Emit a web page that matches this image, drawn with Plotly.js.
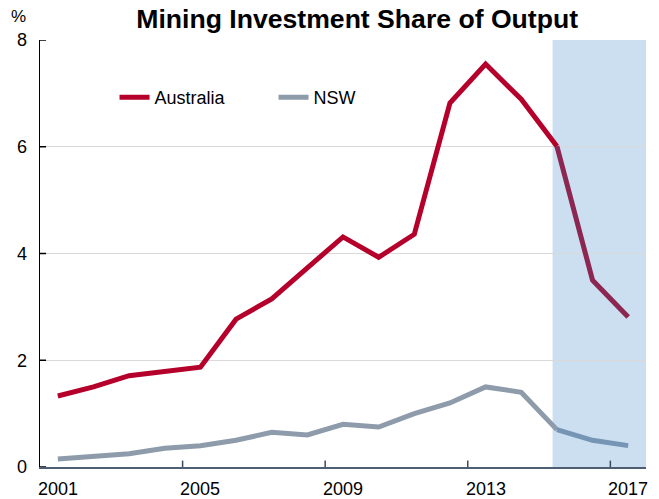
<!DOCTYPE html>
<html lang="en">
<head>
    <meta charset="UTF-8">
    <title>Mining Investment Share of Output</title>
    <script src="https://cdn.plot.ly/plotly-3.0.1.min.js"></script>
    <style>
        body { margin: 0; background: white; }
        #plot { width: 659px; height: 499px; }
    </style>
</head>
<body>
    <div id="plot"></div>
    <script>
        const years = [2001, 2002, 2003, 2004, 2005, 2006, 2007, 2008, 2009,
                       2010, 2011, 2012, 2013, 2014, 2015, 2016, 2017];
        const australia = [1.33, 1.50, 1.71, 1.78, 1.87, 2.77, 3.15, 3.73, 4.31,
                           3.93, 4.36, 6.82, 7.55, 6.89, 6.01, 3.50, 2.81];
        const nsw = [0.15, 0.20, 0.25, 0.35, 0.40, 0.50, 0.65, 0.60, 0.80,
                     0.75, 1.00, 1.20, 1.50, 1.40, 0.70, 0.50, 0.40];
        const forecastFrom = 2015;   // first year inside the shaded forecast period
        const xTickLabels = [2001, 2005, 2009, 2013, 2017];
        const yearBreaks = [2004.5, 2008.5, 2012.5, 2016.5];
        const yTicks = [0, 2, 4, 6, 8];

        const cut = years.indexOf(forecastFrom);
        const font = 'Liberation Sans, Arial, sans-serif';
        const xRange = [2000.5, 2017.5];

        function seg(arr, a, b) { return arr.slice(a, b); }

        const traces = [
            {
                x: seg(years, 0, cut + 1), y: seg(australia, 0, cut + 1),
                type: 'scatter', mode: 'lines', name: 'Australia',
                line: { color: '#B5002B', width: 5 }
            },
            {
                x: seg(years, cut), y: seg(australia, cut),
                type: 'scatter', mode: 'lines', showlegend: false,
                line: { color: '#8C2752', width: 5 }
            },
            {
                x: seg(years, 0, cut + 1), y: seg(nsw, 0, cut + 1),
                type: 'scatter', mode: 'lines', name: 'NSW',
                line: { color: '#8D9BAA', width: 5 }
            },
            {
                x: seg(years, cut), y: seg(nsw, cut),
                type: 'scatter', mode: 'lines', showlegend: false,
                line: { color: '#7695B5', width: 5 }
            }
        ];

        // year labels sit on the data points, ticks sit between years
        const yearLabels = xTickLabels.map(yr => ({
            text: String(yr), x: yr, xref: 'x', y: 0, yref: 'paper',
            xanchor: 'center', yanchor: 'top', yshift: -10,
            showarrow: false, font: { family: font, size: 18 }
        }));

        // short inside tick marks
        const xTickMarks = yearBreaks.map(v => ({
            type: 'line', layer: 'above', xref: 'x', yref: 'paper',
            x0: v, x1: v, y0: 0, y1: 0.015,
            line: { color: '#3A4A5C', width: 1.5 }
        }));
        const yTickMarks = yTicks.map(v => ({
            type: 'line', layer: 'above', xref: 'paper', yref: 'y',
            x0: 0, x1: 0.01, y0: v, y1: v,
            line: { color: '#000', width: 1.5 }
        }));

        const layout = {
            width: 659,
            height: 499,
            margin: { l: 40, r: 13, t: 40, b: 32 },
            paper_bgcolor: 'white',
            plot_bgcolor: 'white',
            font: { family: font, size: 18, color: '#000' },
            title: {
                text: '<b>Mining Investment Share of Output</b>',
                font: { family: font, size: 26.6, color: '#000' },
                x: 0.542, xanchor: 'center',
                y: 0.963, yanchor: 'middle'
            },
            showlegend: true,
            legend: {
                orientation: 'h',
                x: 0.123, y: 0.865, xanchor: 'left', yanchor: 'middle',
                bgcolor: 'rgba(0,0,0,0)',
                font: { family: font, size: 18 },
                entrywidth: 114
            },
            xaxis: {
                range: xRange,
                showticklabels: false,
                ticks: '',
                showgrid: false,
                zeroline: false,
                showline: true,
                linecolor: '#4E5F73',
                linewidth: 2
            },
            yaxis: {
                range: [0, 8],
                tickvals: yTicks,
                ticks: '',
                ticklabelstandoff: 8,
                showgrid: true,
                gridcolor: '#D9D9D9',
                gridwidth: 1,
                zeroline: false,
                showline: true,
                linecolor: '#000',
                linewidth: 1.5,
                tickfont: { family: font, size: 18 }
            },
            shapes: [{
                type: 'rect', layer: 'below',
                xref: 'x', yref: 'paper',
                x0: 2014.88, x1: 2017.5, y0: 0, y1: 1,
                fillcolor: '#CCDFF0', line: { width: 0 }
            }].concat(xTickMarks, yTickMarks),
            annotations: [{
                text: '%', xref: 'paper', yref: 'paper',
                x: -0.036, y: 1.055, xanchor: 'center', yanchor: 'middle',
                showarrow: false, font: { family: font, size: 17 }
            }].concat(yearLabels)
        };

        Plotly.newPlot('plot', traces, layout, { staticPlot: true, displayModeBar: false });
    </script>
</body>
</html>
